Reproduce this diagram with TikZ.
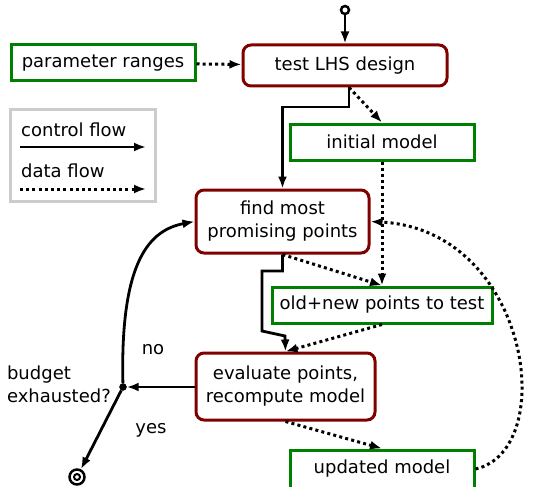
\documentclass[tikz,border=0pt]{standalone}
\usepackage{fontspec}
\setmainfont{DejaVu Sans}
\usetikzlibrary{arrows.meta}
\definecolor{procred}{HTML}{800000}
\definecolor{datagreen}{HTML}{008000}
\begin{document}
\begin{tikzpicture}[x=1pt,y=-1pt,
  font=\fontsize{18}{23}\selectfont,
  proc/.style={draw=procred,line width=3pt,rounded corners=8pt,align=center,inner sep=0pt},
  dat/.style={draw=datagreen,line width=3pt,align=center,inner sep=0pt},
  ctrl/.style={line width=2.8pt,-{Latex[length=12pt,width=9pt]}},
  dflow/.style={line width=3pt,dash pattern=on 3pt off 3.2pt,-{Latex[length=12pt,width=9pt]}}]
\useasboundingbox (0,0) rectangle (533,487);
% nodes
\node[proc,minimum width=204pt,minimum height=41pt] (lhs) at (345,65.5) {test LHS design};
\node[dat,minimum width=184pt,minimum height=36pt] (par) at (103,63) {parameter ranges};
\node[draw=black!20,line width=3pt,minimum width=145pt,minimum height=92pt,inner sep=0pt] (leg) at (82.5,155) {};
\node[anchor=west,inner sep=0pt] (lc) at (21,130) {control flow};
\node[anchor=west,inner sep=0pt] (ld) at (21,171) {data flow};
\coordinate (lc1) at (20,147); \coordinate (lc2) at (146,147);
\coordinate (ld1) at (20,189); \coordinate (ld2) at (146,189);
\node[dat,minimum width=184pt,minimum height=36pt] (init) at (382,142) {initial model};
\node[proc,minimum width=173pt,minimum height=63pt] (find) at (282.5,221.5) {find most\\promising points};
\node[dat,minimum width=220pt,minimum height=36pt] (old) at (382,305) {old+new points to test};
\node[proc,minimum width=179pt,minimum height=67pt] (eval) at (285.5,386.5) {evaluate points,\\recompute model};
\node[dat,minimum width=184pt,minimum height=38pt] (upd) at (382,469) {updated model};
\node[draw,circle,line width=2.5pt,minimum size=8pt,inner sep=0pt] (start) at (345,10) {};
\node[draw,circle,fill=black,minimum size=7pt,inner sep=0pt] (junc) at (123,387) {};
\node[draw,circle,line width=2.5pt,minimum size=15pt,inner sep=0pt] (stop) at (77,477) {};
\node[draw,circle,line width=2pt,minimum size=6pt,inner sep=0pt] (stopin) at (77,477) {};
\node[anchor=east,align=left,inner sep=0pt] (bud) at (111,384) {budget\\exhausted?};
\node[inner sep=0pt] (no) at (153,350) {no};
\node[inner sep=0pt] (yes) at (151,430) {yes};
% control flow
\draw[ctrl] (start) -- (lhs);
\coordinate (c1) at (349,107);
\draw[ctrl] (lhs.south -| c1) -- (c1) -| (find.north);
\coordinate (c2) at (262,271);
\coordinate (c3) at (262,331);
\coordinate (c4) at (285,336);
\draw[ctrl] (find.south) -- (find.south |- c2) -- (c2) -- (c3) -- (c4) -- (eval.north);
\draw[ctrl] (eval.west |- junc) -- (junc);
\draw[ctrl] (junc) .. controls (120,260) and (150,230) .. (find.west);
\draw[ctrl] (junc) -- (stop);
\draw[ctrl] (lc1) -- (lc2);
% data flow
\draw[dflow] (ld1) -- (ld2);
\draw[dflow] (par) -- (lhs);
\draw[dflow] (lhs.south -| c1) -- (init.north);
\draw[dflow] (init.south) -- (old.north);
\draw[dflow] (find.south) -- (old.north);
\draw[dflow] (old.south) -- (eval.north);
\draw[dflow] (eval.south) -- (upd.north);
\draw[dflow] (upd.east) .. controls (560,450) and (530,230) .. (find.east);
\end{tikzpicture}
\end{document}
